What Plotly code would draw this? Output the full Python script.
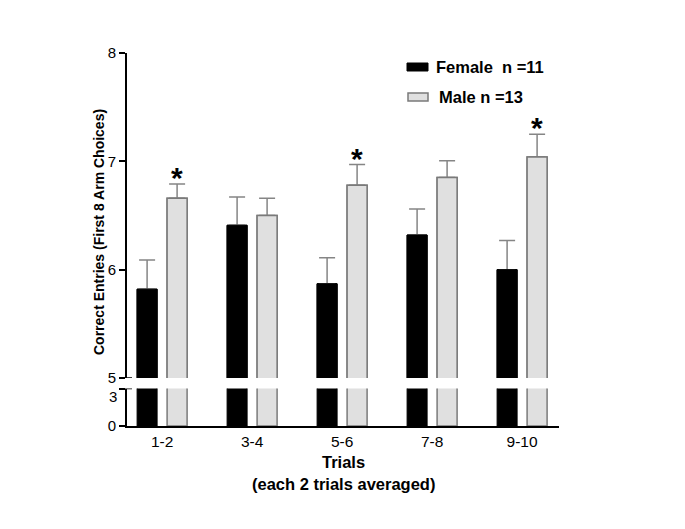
import plotly.graph_objects as go

categories = ["1-2", "3-4", "5-6", "7-8", "9-10"]
female_mean = [5.82, 6.41, 5.87, 6.32, 6.00]
female_sem = [0.27, 0.26, 0.24, 0.24, 0.27]
male_mean = [6.66, 6.50, 6.78, 6.85, 7.04]
male_sem = [0.13, 0.16, 0.19, 0.155, 0.21]
significant = [True, False, True, False, True]
legend_labels = ["Female  n =11", "Male n =13"]
upper_ticks = [5, 6, 7, 8]
lower_ticks = [0, 3]

FONT = "Arial, Liberation Sans, sans-serif"
FEMALE_FILL = "black"
MALE_FILL = "#e0e0e0"
MALE_LINE = "#7a7a7a"
ERR_COLOR = "#858585"

# page has an 8px body margin; figure placed at (8, 8)
OFF = 8
W, H = 685 - 2 * OFF, 529 - 2 * OFF
PLOT_TOP, PLOT_BOTTOM = 53, 426
MT = PLOT_TOP - OFF
MB = (OFF + H) - PLOT_BOTTOM
PH = PLOT_BOTTOM - PLOT_TOP


def px_x(px):
    return (px - OFF) / W


def px_y(py):
    return (PLOT_BOTTOM - py) / PH


fig = go.Figure()
zeros = [0] * len(categories)

female_marker = dict(color=FEMALE_FILL, line=dict(color="black", width=1))
male_marker = dict(color=MALE_FILL, line=dict(color=MALE_LINE, width=1.5))


def err(arr):
    return dict(type="data", symmetric=False, array=arr, arrayminus=zeros,
                color=ERR_COLOR, thickness=1.5, width=8)


# lower (broken) panel: 0-3
fig.add_trace(go.Bar(x=categories, y=female_mean, name=legend_labels[0],
                     marker=female_marker, offsetgroup="f",
                     xaxis="x", yaxis="y", showlegend=False))
fig.add_trace(go.Bar(x=categories, y=male_mean, name=legend_labels[1],
                     marker=male_marker, offsetgroup="m",
                     xaxis="x", yaxis="y", showlegend=False))
# upper panel: 5-8, bars with one-sided error bars
fig.add_trace(go.Bar(x=categories, y=female_mean, name=legend_labels[0],
                     marker=female_marker, offsetgroup="f",
                     error_y=err(female_sem),
                     xaxis="x", yaxis="y2", showlegend=False))
fig.add_trace(go.Bar(x=categories, y=male_mean, name=legend_labels[1],
                     marker=male_marker, offsetgroup="m",
                     error_y=err(male_sem),
                     xaxis="x", yaxis="y2", showlegend=False))
# same bars again on top, hiding the lower end of the error bars
fig.add_trace(go.Bar(x=categories, y=female_mean, name=legend_labels[0],
                     marker=female_marker, offsetgroup="f",
                     xaxis="x", yaxis="y2", showlegend=False, hoverinfo="skip"))
fig.add_trace(go.Bar(x=categories, y=male_mean, name=legend_labels[1],
                     marker=male_marker, offsetgroup="m",
                     xaxis="x", yaxis="y2", showlegend=False, hoverinfo="skip"))

annotations = []
for i, sig in enumerate(significant):
    if sig:
        annotations.append(dict(
            x=categories[i], y=male_mean[i] + male_sem[i], xref="x", yref="y2",
            text="<b>*</b>", showarrow=False, xshift=15, yshift=-12,
            xanchor="center", yanchor="bottom",
            font=dict(family=FONT, size=30, color="black"),
        ))

x_dom = [px_x(127), px_x(559)]

# lower panel top tick label, drawn slightly below its tick as in the original
annotations.append(dict(
    x=x_dom[0], y=lower_ticks[-1], xref="paper", yref="y",
    xanchor="right", yanchor="middle", xshift=-8, yshift=-8,
    text=str(lower_ticks[-1]), showarrow=False,
    font=dict(family=FONT, size=15, color="black"),
))

# axis titles
annotations.append(dict(
    x=px_x(99), y=px_y(232), xref="paper", yref="paper",
    xanchor="center", yanchor="middle",
    text="<b>Correct Entries (First 8 Arm Choices)</b>", textangle=-90,
    showarrow=False, font=dict(family=FONT, size=14, color="black"),
))
annotations.append(dict(
    x=px_x(343), y=px_y(462), xref="paper", yref="paper",
    xanchor="center", yanchor="middle",
    text="<b>Trials</b>", showarrow=False,
    font=dict(family=FONT, size=16.5, color="black"),
))
annotations.append(dict(
    x=px_x(343), y=px_y(484), xref="paper", yref="paper",
    xanchor="center", yanchor="middle",
    text="<b>(each 2 trials averaged)</b>", showarrow=False,
    font=dict(family=FONT, size=16.5, color="black"),
))

# legend
annotations.append(dict(
    x=px_x(434), y=px_y(67), xref="paper", yref="paper",
    xanchor="left", yanchor="middle",
    text="<b>" + legend_labels[0] + "</b>", showarrow=False,
    font=dict(family=FONT, size=16.5, color="black"),
))
annotations.append(dict(
    x=px_x(437), y=px_y(97), xref="paper", yref="paper",
    xanchor="left", yanchor="middle",
    text="<b>" + legend_labels[1] + "</b>", showarrow=False,
    font=dict(family=FONT, size=16.5, color="black"),
))

shapes = [
    dict(type="rect", xref="paper", yref="paper",
         x0=px_x(407), x1=px_x(428), y0=px_y(71), y1=px_y(63),
         fillcolor=FEMALE_FILL, line=dict(color="black", width=1)),
    dict(type="rect", xref="paper", yref="paper",
         x0=px_x(408), x1=px_x(428), y0=px_y(101), y1=px_y(93),
         fillcolor=MALE_FILL, line=dict(color=MALE_LINE, width=1.5)),
]

# axis break marks
for yref, yval in (("y", lower_ticks[-1]), ("y2", upper_ticks[0])):
    shapes.append(dict(type="line", xref="paper", xsizemode="pixel",
                       xanchor=x_dom[0], x0=-5, x1=5, yref=yref,
                       y0=yval, y1=yval, line=dict(color="black", width=1.5)))

fig.update_layout(
    width=W, height=H,
    margin=dict(l=0, r=0, t=MT, b=MB, pad=0),
    paper_bgcolor="white", plot_bgcolor="white",
    barmode="group", bargap=1 / 3, bargroupgap=1 / 3,
    showlegend=False,
    font=dict(family=FONT, color="black"),
    xaxis=dict(
        domain=x_dom, range=[-0.39, 4.41], anchor="y",
        showline=True, linecolor="black", linewidth=2,
        ticks="", showgrid=False, zeroline=False,
        tickfont=dict(family=FONT, size=15.5, color="black"),
    ),
    yaxis=dict(
        domain=[0, px_y(388.5)], range=[0, 3], anchor="x",
        tickvals=lower_ticks,
        ticktext=[str(v) for v in lower_ticks[:-1]] + [""],
        ticks="outside", ticklen=6, tickwidth=1.5,
        tickcolor="black", showline=True, linecolor="black", linewidth=2,
        showgrid=False, zeroline=False,
        tickfont=dict(family=FONT, size=15, color="black"),
    ),
    yaxis2=dict(
        domain=[px_y(378), 1], range=[5, 8], anchor="x",
        tickvals=upper_ticks, ticks="outside", ticklen=6, tickwidth=1.5,
        tickcolor="black", showline=True, linecolor="black", linewidth=2,
        showgrid=False, zeroline=False,
        tickfont=dict(family=FONT, size=15, color="black"),
    ),
    annotations=annotations,
    shapes=shapes,
)

fig.write_html("out.html")
